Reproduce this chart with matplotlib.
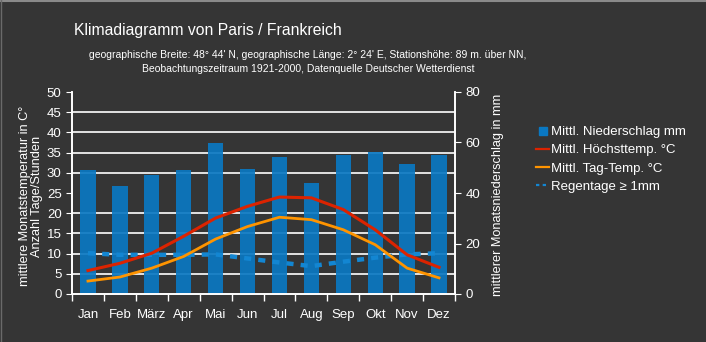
import numpy as np
import matplotlib
matplotlib.use("Agg")
import matplotlib.pyplot as plt
from matplotlib.lines import Line2D

# data
months = ["Jan", "Feb", "März", "Apr", "Mai", "Jun", "Jul", "Aug", "Sep", "Okt", "Nov", "Dez"]
niederschlag = [49.2, 42.8, 47.0, 49.2, 59.8, 49.5, 54.3, 43.8, 54.9, 56.1, 51.5, 54.9]  # mm
hoechsttemp = [5.8, 7.6, 10.1, 14.3, 18.8, 21.7, 24.0, 23.8, 20.9, 15.9, 9.7, 6.6]
tagtemp = [3.2, 4.2, 6.4, 9.3, 13.6, 16.7, 19.0, 18.4, 15.9, 12.2, 6.4, 4.0]
regentage = [10.1, 9.7, 9.7, 9.7, 9.8, 8.8, 7.8, 6.9, 8.0, 9.0, 9.8, 10.1]

bg = "#353535"
blue = "#0a78c2"
dashblue = "#1386d2"
red = "#dc2300"
orange = "#ff9400"
plt.rcParams["font.family"] = ["Liberation Sans", "DejaVu Sans"]

W, H = 706, 342
fig = plt.figure(figsize=(W / 100, H / 100), dpi=100, facecolor=bg)

# thin light frame on top/left like the reference
fig.add_artist(Line2D([0, 1], [1 - 1 / H, 1 - 1 / H], color="#8a8a8a", lw=1.5))
fig.add_artist(Line2D([0.5 / W, 0.5 / W], [0, 1], color="#6a6a6a", lw=1.0))

x0, x1, ytop, ybot = 72, 455, 92, 294
ax_p = fig.add_axes([x0 / W, (H - ybot) / H, (x1 - x0) / W, (ybot - ytop) / H])
ax_p.set_facecolor("none")
ax_t = ax_p.twinx()
ax_t.set_facecolor("none")

x = np.arange(len(months))

# precipitation bars (right scale)
ax_p.set_ylim(0, 80)
ax_p.set_xlim(-0.5, 11.5)
ax_p.set_yticks(np.arange(8, 81, 8), minor=True)
ax_p.grid(True, which="minor", axis="y", color="white", lw=1.2, zorder=0)
ax_p.set_axisbelow(True)
ax_p.bar(x, niederschlag, width=0.48, color=blue, alpha=0.92, zorder=2)
ax_p.yaxis.tick_right()
ax_p.set_yticks([0, 20, 40, 60, 80])
ax_p.tick_params(axis="y", which="major", colors="white", labelsize=9.5, length=4, direction="out")
ax_p.tick_params(axis="y", which="minor", length=0)
ax_p.set_xticks(np.arange(-0.5, 12, 1))
ax_p.set_xticklabels([])
ax_p.set_xticks(x, minor=True)
ax_p.set_xticklabels(months, minor=True)
ax_p.tick_params(axis="x", which="major", colors="white", length=5, width=1)
ax_p.tick_params(axis="x", which="minor", colors="white", length=0, pad=11, labelsize=9.5)

# temperature + rain days (left scale)
ax_t.set_ylim(0, 50)
ax_t.yaxis.tick_left()
ax_t.set_yticks(np.arange(0, 51, 5))
ax_t.tick_params(axis="y", colors="white", labelsize=9.5, length=4, direction="out")
ax_t.plot(x, regentage, color=dashblue, lw=3.2, dashes=(1.6, 1.6), zorder=3)
ax_t.plot(x, tagtemp, color=orange, lw=2.0, zorder=4)
ax_t.plot(x, hoechsttemp, color=red, lw=2.2, zorder=5)

for a in (ax_p, ax_t):
    a.spines["top"].set_visible(False)
    for s in ("left", "right", "bottom"):
        a.spines[s].set_color("white")
        a.spines[s].set_linewidth(1.2)

fig.text(74 / W, 1 - 31 / H, "Klimadiagramm von Paris / Frankreich", color="white",
         fontsize=11.3, va="center", ha="left")
fig.text(308 / W, 1 - 62 / H,
         "geographische Breite: 48° 44' N, geographische Länge: 2° 24' E, Stationshöhe: 89 m. über NN,\n"
         "Beobachtungszeitraum 1921-2000, Datenquelle Deutscher Wetterdienst",
         color="white", fontsize=7.5, ha="center", va="center", linespacing=1.45)
fig.text(31 / W, 1 - 196 / H, "mittlere Monatstemperatur in C°\nAnzahl Tage/Stunden",
         color="white", fontsize=9.2, rotation=90, ha="center", va="center", linespacing=1.05)
fig.text(498 / W, 1 - 195 / H, "mittlerer Monatsniederschlag in mm",
         color="white", fontsize=9.2, rotation=90, ha="center", va="center")

handles = [
    Line2D([], [], marker="s", ls="none", color=blue, markersize=6),
    Line2D([], [], color=red, lw=1.6),
    Line2D([], [], color=orange, lw=1.6),
    Line2D([], [], color=dashblue, lw=1.6, dashes=(1.5, 1.5)),
]
labels = ["Mittl. Niederschlag mm", "Mittl. Höchsttemp. °C", "Mittl. Tag-Temp. °C", "Regentage ≥ 1mm"]
fig.legend(handles, labels, loc="upper left", bbox_to_anchor=(536 / W, 1 - 126 / H),
           frameon=False, fontsize=9.5, labelcolor="white", handlelength=1.0,
           handletextpad=0.1, labelspacing=0.45, borderaxespad=0, borderpad=0)

fig.savefig("out.png", dpi=100, facecolor=bg)
